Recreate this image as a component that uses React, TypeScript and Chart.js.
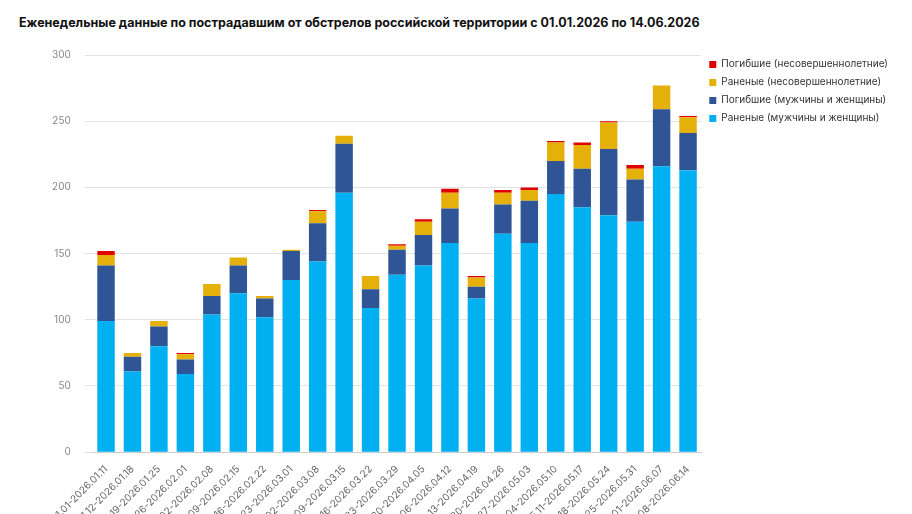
import React, { useEffect, useRef } from "react";
import { Chart, registerables } from "chart.js";
Chart.register(...registerables);

const ends = ["01.11","01.18","01.25","02.01","02.08","02.15","02.22","03.01","03.08","03.15","03.22","03.29","04.05","04.12","04.19","04.26","05.03","05.10","05.17","05.24","05.31","06.07","06.14"];
const starts = ["01.01","01.12","01.19","01.26","02.02","02.09","02.16","02.23","03.02","03.09","03.16","03.23","03.30","04.06","04.13","04.20","04.27","05.04","05.11","05.18","05.25","06.01","06.08"];
const categories = starts.map((s, i) => `2026.${s}-2026.${ends[i]}`);

const woundedAdults = [99,61,80,59,104,120,102,130,144,196,109,134,141,158,116,165,158,195,185,179,174,216,213];
const killedAdults = [42,11,15,11,14,21,14,22,29,37,14,19,23,26,9,22,32,25,29,50,32,43,28];
const woundedMinors = [8,3,4,4,9,6,2,1,9,6,10,3,10,12,7,9,8,14,18,20,8,18,12];
const killedMinors = [3,0,0,1,0,0,0,0,1,0,0,1,2,3,1,2,2,1,2,1,3,0,1];

const TITLE = "Еженедельные данные по пострадавшим от обстрелов российской территории с 01.01.2026 по 14.06.2026";

export default function App() {
  const ref = useRef<HTMLCanvasElement>(null);
  useEffect(() => {
    document.body.style.margin = "0";
    document.body.style.overflow = "hidden";
    Chart.defaults.font.family = "Inter, 'Noto Sans', sans-serif";
    const chart = new Chart(ref.current!, {
      type: "bar",
      data: {
        labels: categories,
        datasets: [
          { label: "Раненые (мужчины и женщины)", data: woundedAdults, backgroundColor: "#00B0F0" },
          { label: "Погибшие (мужчины и женщины)", data: killedAdults, backgroundColor: "#2F5597" },
          { label: "Раненые (несовершеннолетние)", data: woundedMinors, backgroundColor: "#E6B00A" },
          { label: "Погибшие (несовершеннолетние)", data: killedMinors, backgroundColor: "#E00000" },
        ],
      },
      options: {
        animation: false,
        responsive: false,
        layout: { padding: { left: 38, right: 14, top: 14 } },
        datasets: { bar: { categoryPercentage: 0.66, barPercentage: 1 } },
        plugins: {
          legend: {
            position: "right", align: "start", reverse: true,
            title: { display: true, text: " ", padding: 0, font: { size: 2 } },
            labels: { boxWidth: 7, boxHeight: 7, color: "#333", font: { size: 10 }, padding: 8 },
          },
          tooltip: { enabled: false },
        },
        scales: {
          x: {
            stacked: true, grid: { display: false },
            border: { display: true, color: "#ccc" },
            ticks: { maxRotation: 45, minRotation: 45, color: "#666", font: { size: 10 } },
          },
          y: {
            stacked: true, min: 0, max: 300,
            ticks: { stepSize: 50, color: "#888", font: { size: 10 }, padding: 14 },
            grid: { color: "#e3e3e3" }, border: { display: false },
          },
        },
      },
    });
    return () => chart.destroy();
  }, []);
  return (
    <div>
      <div style={{ fontFamily: "Inter, 'Noto Sans', sans-serif", fontWeight: 700, fontSize: 12.5, color: "#111", padding: "15px 0 0 19px", height: 20, whiteSpace: "nowrap" }}>{TITLE}</div>
      <canvas ref={ref} width={912} height={520} style={{ display: "block" }} />
    </div>
  );
}
